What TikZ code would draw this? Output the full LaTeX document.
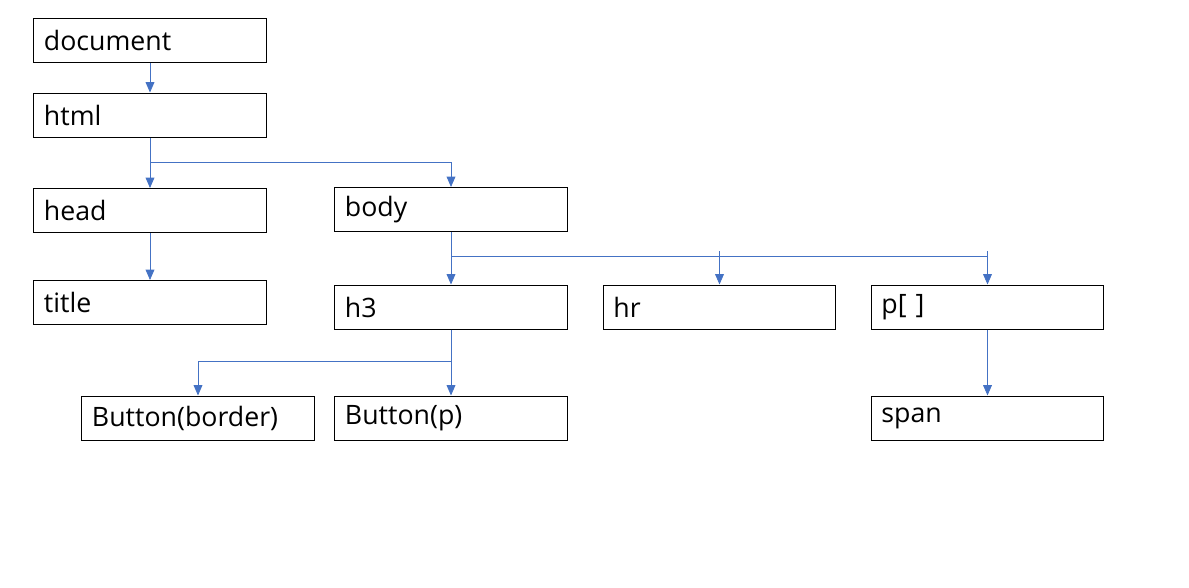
\documentclass[tikz,border=0pt]{standalone}
\usepackage{fontspec}
\setmainfont{Open Sans}
\usetikzlibrary{arrows.meta, positioning}

\begin{document}
\begin{tikzpicture}[
    x=0.025cm, y=-0.025cm,
    box/.style={rectangle, draw, line width=0.7pt, minimum width=5.8cm, minimum height=1.1cm,
        text width=5.3cm, inner xsep=0.25cm, align=left, font=\fontsize{19}{21}\selectfont},
    arrow/.style={-{Triangle[length=2.6mm, width=2.2mm]}, draw={rgb,255:red,68;green,114;blue,196}, line width=0.6pt},
    link/.style={draw={rgb,255:red,68;green,114;blue,196}, line width=0.6pt}
]
\useasboundingbox (0,0) rectangle (1189,587);

\node[box] (document) at (150,40) {document};
\node[box] (html) at (150,115) {html};
\node[box] (head) at (150,210.5) {head};
\node[box] (title) at (150,302.5) {title};
\node[box] (body) at (451,209.5) {body};
\node[box] (h3) at (451,307) {h3};
\node[box] (hr) at (719.5,307) {hr};
\node[box] (p) at (987.5,307) {p[ ]};
\node[box] (btnborder) at (198,418) {Button(border)};
\node[box] (btnp) at (451,418) {Button(p)};
\node[box] (span) at (987.5,418) {span};

\coordinate (htmlsplit) at (150,162);
\coordinate (bodysplit) at (451,256);
\coordinate (hrjoin) at (719.5,251);
\coordinate (pjoin) at (987.5,251);
\coordinate (h3split) at (451,361);

\draw[arrow] (document) -- (html);
\draw[arrow] (html) -- (head);
\draw[arrow] (htmlsplit) -| (body.north);
\draw[arrow] (head) -- (title);
\draw[arrow] (body) -- (h3);
\draw[link] (bodysplit) -- (pjoin |- bodysplit);
\draw[arrow] (hrjoin) -- (hr.north);
\draw[arrow] (pjoin) -- (p.north);
\draw[arrow] (h3) -- (btnp);
\draw[arrow] (h3split) -| (btnborder.north);
\draw[arrow] (p) -- (span);
\end{tikzpicture}
\end{document}
